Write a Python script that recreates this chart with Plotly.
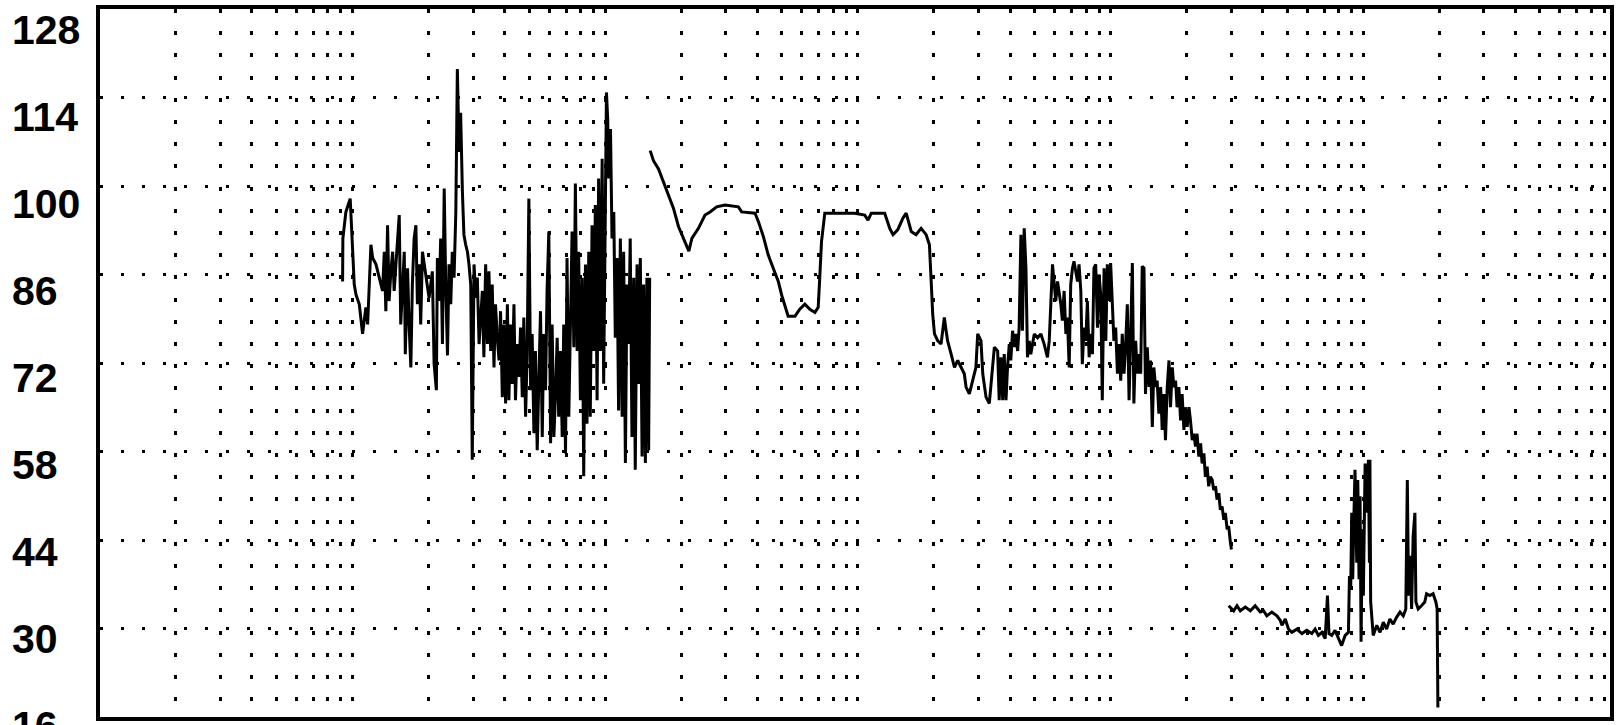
import plotly.graph_objects as go

# ---------------- data ----------------
# time axis is logarithmic; points are stored as log10(time)
seg_a_logt = [0.660, 0.661, 0.673, 0.690, 0.700, 0.706, 0.713, 0.726, 0.739, 0.752, 0.759, 0.772, 0.779, 0.792,
              0.805, 0.818, 0.825, 0.831, 0.838, 0.844, 0.851, 0.858, 0.864, 0.871, 0.884, 0.890, 0.897, 0.904,
              0.908, 0.917, 0.923, 0.930, 0.936, 0.943, 0.950, 0.956, 0.963, 0.969, 0.976, 0.989, 1.002, 1.015,
              1.022, 1.031, 1.035, 1.042, 1.048, 1.055, 1.062, 1.068, 1.075, 1.081, 1.088, 1.094, 1.101, 1.108,
              1.114, 1.121, 1.127, 1.134, 1.140, 1.147, 1.154, 1.160, 1.167, 1.173, 1.180, 1.187, 1.193, 1.200,
              1.213, 1.219, 1.226, 1.233, 1.239, 1.246, 1.252, 1.259, 1.265, 1.272, 1.279, 1.285, 1.292, 1.298,
              1.305, 1.312, 1.318, 1.325, 1.331, 1.338, 1.344, 1.351, 1.358, 1.364, 1.371, 1.377, 1.384, 1.390,
              1.397, 1.404, 1.410, 1.417, 1.423, 1.430, 1.437, 1.443, 1.450, 1.456, 1.463, 1.469, 1.476, 1.483,
              1.489, 1.496, 1.502, 1.509, 1.515, 1.522, 1.529, 1.535, 1.542, 1.548, 1.555, 1.562, 1.568, 1.575,
              1.581, 1.588, 1.594, 1.601, 1.608, 1.614, 1.621, 1.627, 1.634, 1.640, 1.647, 1.654, 1.660, 1.667,
              1.673, 1.680, 1.687, 1.693, 1.700, 1.704, 1.709, 1.713, 1.720, 1.726, 1.733, 1.739, 1.746, 1.752,
              1.759, 1.766, 1.772, 1.779, 1.785, 1.792, 1.798, 1.805, 1.812, 1.818, 1.825, 1.831, 1.838, 1.845,
              1.851, 1.858, 1.864, 1.871, 1.875]
seg_a_level = [84.9, 91.7, 95.9, 98.0, 89.6, 84.4, 82.8, 81.3, 76.6, 80.8, 78.1, 90.7, 88.6, 87.6,
               85.5, 83.4, 89.6, 80.2, 93.8, 81.8, 86.5, 89.6, 83.4, 87.6, 95.4, 78.1, 84.4, 89.6,
               73.4, 87.0, 78.1, 71.3, 84.4, 91.7, 93.8, 81.3, 87.6, 78.1, 89.6, 85.5, 82.3, 86.5,
               71.9, 67.7, 88.6, 81.8, 91.7, 75.0, 99.6, 84.4, 73.2, 87.6, 81.3, 89.6, 85.5, 95.9,
               118.5, 105.4, 111.6, 99.1, 92.3, 90.7, 89.6, 87.6, 84.4, 56.7, 87.6, 82.3, 85.5, 75.0,
               83.4, 72.9, 87.6, 75.0, 86.5, 73.9, 84.4, 71.3, 81.3, 76.0, 72.4, 80.2, 66.6, 78.1,
               65.6, 81.3, 66.1, 78.1, 68.7, 81.3, 66.1, 75.0, 69.8, 77.6, 66.6, 79.2, 63.5, 72.9,
               98.0, 67.7, 76.6, 60.9, 73.9, 58.2, 71.3, 80.2, 60.3, 76.6, 67.7, 83.4, 92.8, 59.3,
               78.1, 60.3, 66.6, 76.0, 63.5, 73.9, 60.3, 78.1, 57.7, 88.6, 63.5, 83.4, 92.8, 74.5,
               100.4, 73.9, 89.6, 66.1, 85.5, 54.1, 87.6, 62.4, 89.6, 63.5, 93.8, 73.9, 97.0, 66.1,
               101.2, 73.9, 104.3, 68.7, 107.5, 114.8, 110.6, 101.2, 109.0, 91.7, 95.9, 76.0, 88.6, 64.5,
               91.7, 63.5, 89.6, 56.2, 84.4, 75.0, 91.7, 60.3, 85.5, 55.1, 87.6, 68.7, 88.6, 57.2,
               84.4, 56.2, 85.5, 58.2, 85.5]

seg_b_logt = [1.877, 1.890, 1.910, 1.930, 1.949, 1.969, 1.989, 2.009, 2.022, 2.030, 2.042, 2.068, 2.094, 2.114,
              2.140, 2.173, 2.226, 2.239, 2.292, 2.305, 2.325, 2.344, 2.364, 2.384, 2.397, 2.410, 2.423, 2.450,
              2.469, 2.489, 2.509, 2.529, 2.542, 2.548, 2.555, 2.568, 2.621, 2.686, 2.726, 2.739, 2.752, 2.805,
              2.825, 2.838, 2.857, 2.877, 2.890,
              2.910, 2.929, 2.949, 2.969, 2.982, 2.989, 2.995, 3.002, 3.015, 3.028, 3.041, 3.048, 3.054, 3.068,
              3.081, 3.094, 3.107, 3.120, 3.127, 3.140, 3.153, 3.166, 3.173, 3.186, 3.193, 3.206, 3.219, 3.232,
              3.239, 3.252, 3.258, 3.265, 3.272, 3.278, 3.285, 3.291, 3.298, 3.304, 3.311, 3.318, 3.324, 3.331,
              3.337, 3.344, 3.350, 3.357, 3.364, 3.370, 3.377, 3.383, 3.397, 3.410, 3.423, 3.436, 3.449, 3.456,
              3.462, 3.469, 3.476, 3.482, 3.489, 3.495, 3.502, 3.508, 3.515, 3.522, 3.528, 3.535, 3.541, 3.548,
              3.554, 3.568, 3.574, 3.581, 3.587, 3.594, 3.601, 3.607, 3.614, 3.620, 3.627, 3.633, 3.640, 3.647,
              3.653, 3.660, 3.666, 3.673, 3.680, 3.686, 3.693, 3.699, 3.706, 3.712, 3.719, 3.726, 3.732, 3.739,
              3.745, 3.752, 3.758, 3.765, 3.772, 3.778, 3.785, 3.791, 3.798, 3.805, 3.811, 3.818, 3.824, 3.831,
              3.837, 3.844, 3.851, 3.857, 3.864, 3.870, 3.877, 3.883, 3.890, 3.897, 3.903, 3.910, 3.916, 3.923,
              3.930, 3.936, 3.943, 3.949, 3.956, 3.962, 3.969, 3.976, 3.982, 3.989, 3.995, 4.002, 4.009, 4.015,
              4.022, 4.028, 4.035, 4.041, 4.048, 4.055, 4.061, 4.068, 4.074, 4.081, 4.087, 4.094, 4.101, 4.107,
              4.114, 4.120, 4.127, 4.133, 4.140, 4.147, 4.153, 4.160, 4.166, 4.173, 4.177]
seg_b_level = [105.6, 104.0, 102.7, 100.6, 98.8, 96.5, 93.6, 91.7, 90.4, 89.7, 91.7, 93.3, 95.4, 95.9,
               96.7, 97.0, 96.7, 95.9, 95.7, 94.4, 92.0, 89.1, 87.0, 84.9, 82.8, 81.0, 79.4, 79.4,
               80.5, 81.3, 80.5, 80.0, 80.8, 85.5, 91.2, 95.7, 95.7, 95.7, 95.4, 94.6, 95.7, 95.7,
               93.3, 92.3, 93.1, 94.9, 95.7,
               92.8, 92.3, 93.3, 92.3, 90.7, 84.9, 79.7, 76.6, 75.5, 75.0, 79.2, 77.1, 75.5, 73.4,
               71.3, 72.4, 71.3, 70.3, 68.2, 67.1, 69.2, 71.3, 76.6, 75.5, 70.3, 66.6, 65.6, 71.3,
               74.5, 73.9, 66.1, 72.9, 66.1, 73.4, 66.1, 71.3, 75.0, 72.4, 77.1, 74.5, 76.6, 73.9,
               77.6, 92.3, 77.1, 93.3, 87.0, 72.9, 75.5, 73.4, 76.6, 76.0, 76.6, 75.0, 72.9, 75.5,
               80.2, 87.6, 84.4, 81.8, 84.9, 83.4, 81.3, 78.7, 83.4, 76.6, 79.2, 71.3, 84.4, 87.0,
               88.1, 84.9, 87.6, 83.4, 71.8, 77.6, 75.5, 81.8, 72.9, 76.6, 73.4, 87.0, 87.6, 77.6,
               86.0, 82.8, 66.1, 87.0, 75.5, 87.6, 81.8, 87.8, 80.2, 75.5, 77.6, 70.3, 75.0, 69.2,
               76.6, 70.3, 74.5, 81.3, 66.1, 77.6, 87.8, 65.6, 75.5, 70.3, 73.4, 70.3, 87.3, 87.0,
               67.1, 74.5, 68.2, 72.4, 61.9, 71.3, 68.2, 69.2, 64.0, 68.2, 61.4, 67.1, 59.8, 68.2,
               72.4, 65.0, 71.3, 68.2, 69.2, 65.0, 68.2, 62.9, 67.1, 61.4, 65.0, 61.9, 65.0, 62.9,
               59.8, 60.8, 58.8, 60.8, 57.2, 59.3, 56.1, 57.7, 54.0, 55.6, 52.5, 54.0, 53.5, 51.9,
               52.5, 50.4, 51.4, 48.8, 49.3, 47.2, 48.3, 45.7, 46.2, 43.6, 42.5]

seg_c_logt = [4.166, 4.186, 4.199, 4.212, 4.232, 4.252, 4.271, 4.291, 4.304, 4.317, 4.337, 4.357, 4.370, 4.377,
              4.390, 4.403, 4.416, 4.436, 4.456, 4.475, 4.495, 4.508, 4.521, 4.535, 4.548, 4.557, 4.563, 4.574,
              4.587, 4.600, 4.613, 4.627, 4.640, 4.644, 4.649, 4.653, 4.657, 4.662, 4.666, 4.673, 4.677, 4.682,
              4.686, 4.690, 4.695, 4.699, 4.706, 4.712, 4.719, 4.723, 4.725, 4.728, 4.733, 4.738, 4.752, 4.765,
              4.778, 4.791, 4.804, 4.817, 4.831, 4.844, 4.857, 4.867, 4.873, 4.878, 4.883, 4.890, 4.896, 4.903,
              4.907, 4.916, 4.929, 4.942, 4.949, 4.962, 4.975, 4.986, 4.991, 4.994]
seg_c_level = [33.6, 32.8, 33.6, 32.8, 33.4, 32.8, 33.6, 32.6, 32.8, 32.0, 32.6, 32.0, 31.3, 30.5,
               31.5, 29.9, 29.4, 29.9, 29.2, 29.7, 29.2, 29.9, 28.9, 29.4, 28.4, 35.2, 29.2, 28.9,
               29.7, 28.6, 27.3, 28.9, 29.4, 38.3, 36.2, 48.3, 37.8, 48.3, 55.1, 40.4, 53.5, 37.8,
               50.9, 27.9, 45.7, 35.2, 56.1, 48.3, 56.7, 40.4, 56.7, 34.2, 31.0, 28.9, 30.5, 29.4,
               31.0, 29.9, 31.5, 30.7, 31.8, 32.6, 32.0, 33.1, 53.5, 35.2, 41.5, 33.1, 44.6, 48.3,
               34.2, 33.1, 33.6, 34.2, 35.5, 35.2, 35.5, 34.2, 33.1, 17.5]

y_labels = [128, 114, 100, 86, 72, 58, 44, 30, 16]
grid_levels = [30, 44, 58, 72, 86, 100, 114]
grid_multipliers = [1, 1.5, 2, 2.5, 3, 3.5, 4, 4.5, 5]
grid_decades = [1, 10, 100, 1000, 10000, 100000]

# ---------------- build ----------------
xs, ys = [], []
for lt, lv in ((seg_a_logt, seg_a_level), (seg_b_logt, seg_b_level), (seg_c_logt, seg_c_level)):
    xs += [10 ** v for v in lt] + [None]
    ys += list(lv) + [None]

grid_cols = [m * d for d in grid_decades for m in grid_multipliers]

fig = go.Figure()
fig.add_trace(go.Scatter(x=xs, y=ys, mode="lines", connectgaps=False,
                         line=dict(color="black", width=3), hoverinfo="skip", showlegend=False))

W, H = 1619, 725
fig.update_layout(
    width=W, height=H,
    margin=dict(l=100, r=5, t=8, b=8),
    paper_bgcolor="white", plot_bgcolor="white",
    showlegend=False,
    xaxis=dict(type="log", range=[-0.300, 5.675], tickmode="array", tickvals=grid_cols,
               showticklabels=False, ticks="", showgrid=True, gridcolor="black", gridwidth=3,
               griddash="4px,18.2px", showline=True, mirror=True, linecolor="black", linewidth=4,
               zeroline=False),
    yaxis=dict(range=[16, 128], tickmode="array", tickvals=grid_levels, showticklabels=False,
               ticks="", showgrid=True, gridcolor="black", gridwidth=3, griddash="3px,18px",
               showline=True, mirror=True, linecolor="black", linewidth=4, zeroline=False),
)

label_font = dict(family="Liberation Sans, Arial, sans-serif", size=41, color="black")
for v in y_labels:
    fig.add_annotation(x=-0.0595, xref="paper", xanchor="left", y=v, yref="y", yanchor="middle",
                       yshift=-(10.7 + 0.105 * (v - 30)), text="<b>%d</b>" % v, showarrow=False,
                       font=label_font)

fig.write_html("out.html")
